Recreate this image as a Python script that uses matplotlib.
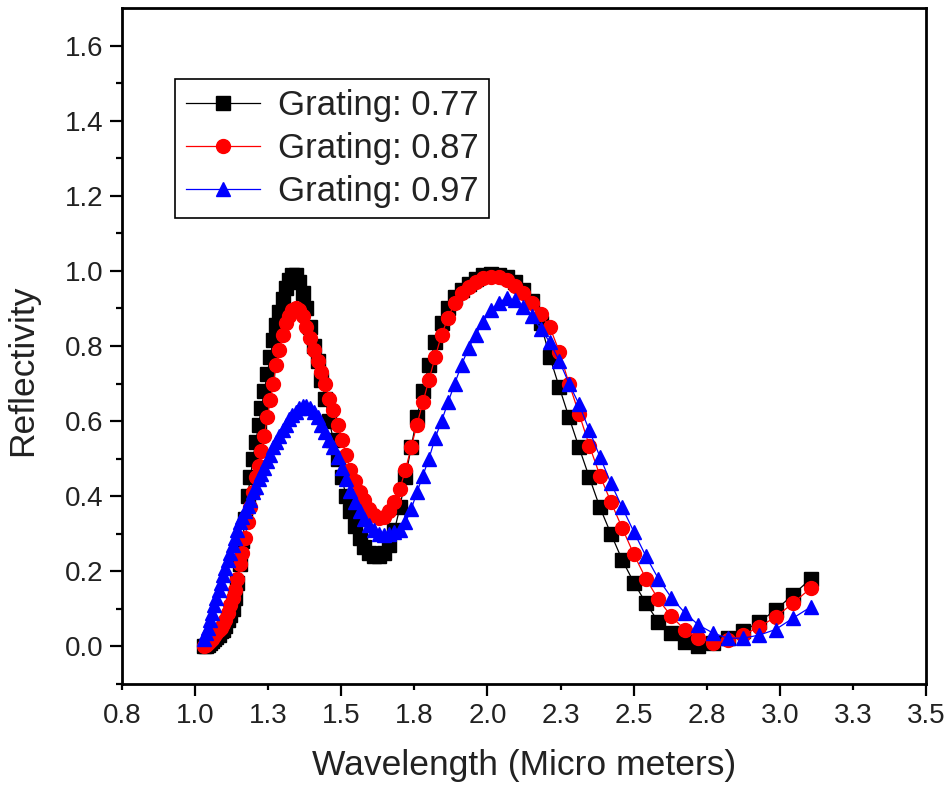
import matplotlib
matplotlib.use('Agg')
import matplotlib.pyplot as plt

plt.rcParams['font.family'] = ['Liberation Sans', 'DejaVu Sans']

# wavelength samples (micro meters), shared by the three gratings
wavelength = [1.0299, 1.0368, 1.0438, 1.0509, 1.0582, 1.0655, 1.0729, 1.0804, 1.0880, 1.0958,
              1.1036, 1.1116, 1.1197, 1.1279, 1.1362, 1.1446, 1.1532, 1.1619, 1.1707, 1.1797,
              1.1888, 1.1980, 1.2074, 1.2170, 1.2266, 1.2365, 1.2465, 1.2566, 1.2670, 1.2775,
              1.2882, 1.2990, 1.3101, 1.3213, 1.3327, 1.3444, 1.3562, 1.3682, 1.3805, 1.3930,
              1.4057, 1.4186, 1.4318, 1.4452, 1.4589, 1.4729, 1.4871, 1.5016, 1.5163, 1.5314,
              1.5468, 1.5625, 1.5785, 1.5948, 1.6115, 1.6285, 1.6459, 1.6637, 1.6819, 1.7004,
              1.7194, 1.7388, 1.7586, 1.7790, 1.7997, 1.8210, 1.8428, 1.8651, 1.8879, 1.9113,
              1.9354, 1.9600, 1.9852, 2.0111, 2.0377, 2.0651, 2.0931, 2.1219, 2.1516, 2.1820,
              2.2134, 2.2456, 2.2788, 2.3130, 2.3483, 2.3846, 2.4221, 2.4608, 2.5008, 2.5420,
              2.5847, 2.6287, 2.6744, 2.7216, 2.7705, 2.8213, 2.8739, 2.9285, 2.9853, 3.0442,
              3.1056]

refl_077 = [0.00, 0.00, 0.005, 0.01, 0.015, 0.02, 0.025, 0.03, 0.04, 0.045,
            0.055, 0.07, 0.085, 0.10, 0.13, 0.17, 0.22, 0.28, 0.34, 0.40,
            0.45, 0.50, 0.545, 0.59, 0.635, 0.68, 0.725, 0.77, 0.815, 0.855,
            0.89, 0.925, 0.955, 0.975, 0.99, 0.99, 0.97, 0.94, 0.90, 0.85,
            0.80, 0.76, 0.71, 0.66, 0.60, 0.55, 0.50, 0.45, 0.40, 0.36,
            0.32, 0.29, 0.265, 0.25, 0.24, 0.24, 0.25, 0.27, 0.31, 0.37,
            0.45, 0.53, 0.61, 0.68, 0.75, 0.81, 0.86, 0.90, 0.93, 0.95,
            0.965, 0.978, 0.988, 0.993, 0.99, 0.985, 0.97, 0.95, 0.92, 0.86,
            0.77, 0.69, 0.61, 0.53, 0.45, 0.37, 0.30, 0.23, 0.17, 0.115,
            0.065, 0.035, 0.012, 0.002, 0.008, 0.022, 0.04, 0.065, 0.097, 0.137,
            0.18]

refl_087 = [0.00, 0.005, 0.01, 0.015, 0.02, 0.028, 0.035, 0.045, 0.05, 0.06,
            0.07, 0.09, 0.11, 0.13, 0.15, 0.18, 0.22, 0.25, 0.29, 0.33,
            0.37, 0.41, 0.45, 0.48, 0.52, 0.56, 0.61, 0.655, 0.70, 0.75,
            0.79, 0.83, 0.86, 0.88, 0.895, 0.90, 0.895, 0.88, 0.85, 0.82,
            0.79, 0.76, 0.73, 0.70, 0.66, 0.63, 0.59, 0.55, 0.51, 0.47,
            0.44, 0.41, 0.39, 0.365, 0.35, 0.342, 0.345, 0.36, 0.385, 0.42,
            0.47, 0.53, 0.59, 0.65, 0.71, 0.77, 0.83, 0.875, 0.915, 0.94,
            0.958, 0.97, 0.98, 0.985, 0.985, 0.975, 0.96, 0.94, 0.915, 0.885,
            0.85, 0.785, 0.70, 0.62, 0.535, 0.455, 0.385, 0.315, 0.245, 0.18,
            0.125, 0.08, 0.045, 0.022, 0.01, 0.017, 0.03, 0.052, 0.078, 0.115,
            0.155]

refl_097 = [0.02, 0.035, 0.05, 0.07, 0.09, 0.11, 0.13, 0.15, 0.17, 0.19,
            0.21, 0.23, 0.25, 0.27, 0.29, 0.31, 0.33, 0.345, 0.36, 0.375,
            0.39, 0.41, 0.425, 0.445, 0.46, 0.475, 0.495, 0.51, 0.53, 0.545,
            0.56, 0.575, 0.59, 0.605, 0.615, 0.625, 0.635, 0.64, 0.64, 0.635,
            0.625, 0.61, 0.59, 0.57, 0.55, 0.53, 0.505, 0.475, 0.445, 0.415,
            0.385, 0.36, 0.34, 0.322, 0.31, 0.30, 0.298, 0.30, 0.305, 0.31,
            0.33, 0.365, 0.41, 0.455, 0.50, 0.555, 0.60, 0.65, 0.70, 0.75,
            0.795, 0.83, 0.865, 0.895, 0.915, 0.928, 0.922, 0.905, 0.88, 0.845,
            0.81, 0.76, 0.70, 0.645, 0.575, 0.505, 0.435, 0.37, 0.305, 0.24,
            0.18, 0.13, 0.09, 0.057, 0.036, 0.022, 0.022, 0.03, 0.045, 0.075,
            0.105]

labels = ['Grating: 0.77', 'Grating: 0.87', 'Grating: 0.97']

xmajor = [1.0, 1.5, 2.0, 2.5, 3.0, 3.5]
xmajor_labels = ['1.0', '1.5', '2.0', '2.5', '3.0', '3.5']
xminor = [0.75, 1.25, 1.75, 2.25, 2.75, 3.25]
xminor_labels = ['0.8', '1.3', '1.8', '2.3', '2.8', '3.3']
ymajor = [0.0, 0.2, 0.4, 0.6, 0.8, 1.0, 1.2, 1.4, 1.6]
ymajor_labels = ['0.0', '0.2', '0.4', '0.6', '0.8', '1.0', '1.2', '1.4', '1.6']
yminor = [-0.1, 0.1, 0.3, 0.5, 0.7, 0.9, 1.1, 1.3, 1.5]

fig = plt.figure(figsize=(9.49, 7.91), dpi=100, facecolor='w')
ax = fig.add_axes([0.1286, 0.1353, 0.8472, 0.8546])

ax.plot(wavelength, refl_077, color='black', lw=0.9, marker='s', ms=9.5,
        mfc='black', mec='black', label=labels[0])
ax.plot(wavelength, refl_087, color='red', lw=0.9, marker='o', ms=10,
        mfc='red', mec='red', label=labels[1])
ax.plot(wavelength, refl_097, color='blue', lw=0.9, marker='^', ms=10.5,
        mfc='blue', mec='blue', label=labels[2])

ax.set_xlim(0.75, 3.5)
ax.set_ylim(-0.1, 1.7)

ax.set_xticks(xmajor, xmajor_labels)
ax.set_xticks(xminor, xminor_labels, minor=True)
ax.set_yticks(ymajor, ymajor_labels)
ax.set_yticks(yminor, minor=True)

for s in ax.spines.values():
    s.set_linewidth(2)

ax.tick_params(which='major', direction='out', length=8.5, width=1.6,
               labelsize=20, labelcolor='#222222', pad=5)
ax.tick_params(which='minor', direction='out', length=4, width=1.6,
               labelsize=20, labelcolor='#222222')
ax.tick_params(axis='x', which='minor', pad=9.5)
ax.tick_params(top=False, right=False, which='both')

ax.set_xlabel('Wavelength (Micro meters)', fontsize=25.5, color='#222222')
ax.set_ylabel('Reflectivity', fontsize=25.5, color='#222222')
ax.xaxis.set_label_coords(0.5, -0.096)
ax.yaxis.set_label_coords(-0.103, 0.464)

leg = ax.legend(loc='upper left', bbox_to_anchor=(0.066, 0.895), borderaxespad=0,
                fontsize=25, fancybox=False, framealpha=1, edgecolor='black',
                handlelength=2.15, handletextpad=0.5, labelspacing=0.28,
                borderpad=0.3)
leg.get_frame().set_linewidth(1.2)
for t in leg.get_texts():
    t.set_color('#222222')

fig.savefig('out.png', dpi=100)
